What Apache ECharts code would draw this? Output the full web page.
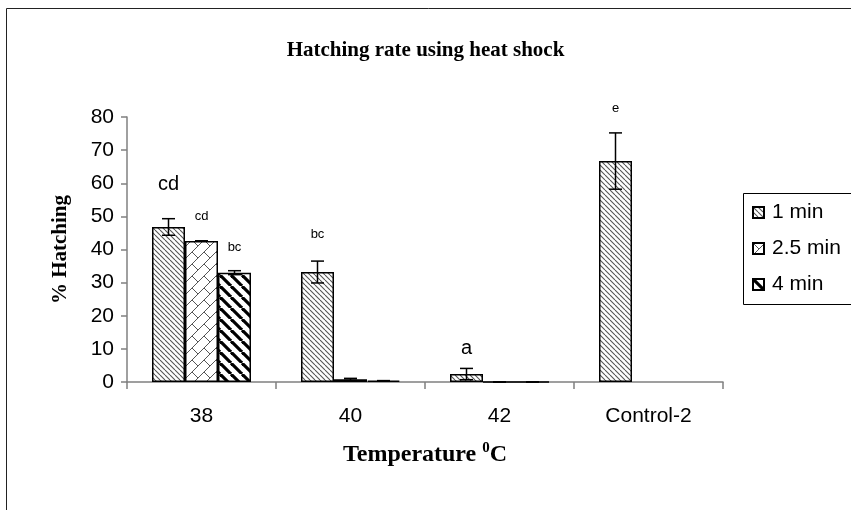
<!DOCTYPE html>
<html>
<head>
<meta charset="utf-8">
<script src="https://cdn.jsdelivr.net/npm/echarts@6/dist/echarts.min.js"></script>
<style>html,body{margin:0;padding:0;background:#fff}#c{width:851px;height:510px}</style>
</head>
<body>
<div id="c"></div>
<script>
// ---- data ----
var categories = ['38', '40', '42', 'Control-2'];
var seriesNames = ['1 min', '2.5 min', '4 min'];
var oneMin = [46.8, 33.2, 2.4, 66.7];
var twoHalfMin = [42.6, 0.8, 0, null];
var fourMin = [33.0, 0.4, 0, null];
var oneMinErr = [2.5, 3.3, 1.7, 8.5];
var twoHalfMinErr = [0, 0.3, 0, null];
var fourMinErr = [0.6, 0, 0, null];
var oneMinLetters = ['cd', 'bc', 'a', 'e'];
var twoHalfMinLetters = ['cd', '', '', ''];
var fourMinLetters = ['bc', '', '', ''];
var yTicks = [0, 10, 20, 30, 40, 50, 60, 70, 80];

// ---- patterns ----
function diagPattern(size, color, width) {
  var c = document.createElement('canvas');
  c.width = size; c.height = size;
  var g = c.getContext('2d');
  g.fillStyle = '#fff'; g.fillRect(0, 0, size, size);
  g.strokeStyle = color; g.lineWidth = width;
  for (var k = -1; k <= 1; k++) {
    g.beginPath();
    g.moveTo(k * size, 0);
    g.lineTo(k * size + size, size);
    g.stroke();
  }
  return c;
}
function brickPattern() {
  var s = 24, c = document.createElement('canvas');
  c.width = s; c.height = s;
  var g = c.getContext('2d');
  g.fillStyle = '#fff'; g.fillRect(0, 0, s, s);
  g.strokeStyle = '#555'; g.lineWidth = 1;
  var k, cc;
  for (k = -2; k <= 6; k++) {
    g.beginPath();
    g.moveTo(12 * k - 24, 24); g.lineTo(12 * k, 0);
    g.stroke();
    g.beginPath();
    g.moveTo(12 * k + 24, -24); g.lineTo(12 * k, 0);
    g.stroke();
  }
  for (k = -4; k <= 6; k++) {
    var off = (Math.abs(k) % 2 === 0) ? 0 : 12;
    for (cc = -72; cc <= 72; cc += 24) {
      var c0 = cc + off;
      var x = (12 * k + c0) / 2, y = (12 * k - c0) / 2;
      g.beginPath(); g.moveTo(x, y); g.lineTo(x + 6, y + 6); g.stroke();
    }
  }
  return c;
}
var pats = [
  {image: diagPattern(5, '#555', 1.1), repeat: 'repeat'},
  {image: brickPattern(), repeat: 'repeat'},
  {image: diagPattern(11, '#000', 3.2), repeat: 'repeat'}
];

var values = [oneMin, twoHalfMin, fourMin];
var errs = [oneMinErr, twoHalfMinErr, fourMinErr];
var letters = [oneMinLetters, twoHalfMinLetters, fourMinLetters];
var bigLetter = {'0-0': true, '0-2': true};
var letterGap = {'0-0': 32, '1-0': 18, '2-0': 19, '0-1': 31, '0-2': 16, '0-3': 46};

var BAR_W = 33;
var SANS = 'Liberation Sans, Arial, sans-serif';
var SERIF = 'Liberation Serif, Times New Roman, serif';

var series = seriesNames.map(function (name, si) {
  return {
    name: name,
    type: 'bar',
    barWidth: BAR_W,
    barGap: '0%',
    itemStyle: {color: pats[si], borderColor: '#000', borderWidth: 1.5},
    data: values[si].map(function (v, ci) {
      var t = letters[si][ci];
      var key = si + '-' + ci;
      var item = {value: v};
      if (t) {
        item.label = {
          show: true, position: 'top', formatter: t,
          distance: letterGap[key] || 20,
          fontFamily: SANS,
          fontSize: bigLetter[key] ? 20 : 13, color: '#000'
        };
      }
      return item;
    })
  };
});

var errData = [];
values.forEach(function (arr, si) {
  arr.forEach(function (v, ci) {
    if (v !== null && errs[si][ci] !== null) errData.push([ci, v, errs[si][ci], si]);
  });
});

series.push({
  type: 'custom',
  z: 10,
  silent: true,
  renderItem: function (params, api) {
    var ci = api.value(0), v = api.value(1), e = api.value(2), si = api.value(3);
    var off = (si - 1) * BAR_W;
    var hi = api.coord([ci, v + e]);
    var lo = api.coord([ci, Math.max(v - e, 0)]);
    var x = hi[0] + off;
    var cap = 6.5;
    var st = {stroke: '#000', lineWidth: 1.5};
    return {
      type: 'group',
      children: [
        {type: 'line', shape: {x1: x, y1: hi[1], x2: x, y2: lo[1]}, style: st},
        {type: 'line', shape: {x1: x - cap, y1: hi[1], x2: x + cap, y2: hi[1]}, style: st},
        {type: 'line', shape: {x1: x - cap, y1: lo[1], x2: x + cap, y2: lo[1]}, style: st}
      ]
    };
  },
  data: errData
});

var chart = echarts.init(document.getElementById('c'), null, {renderer: 'canvas'});
chart.setOption({
  animation: false,
  backgroundColor: '#fff',
  title: {
    text: 'Hatching rate using heat shock',
    left: 'center', top: 35,
    textStyle: {fontFamily: SERIF, fontWeight: 'bold', fontSize: 21, color: '#000'}
  },
  grid: {left: 127, right: 128, top: 117, bottom: 128},
  legend: {
    orient: 'vertical', left: 752, top: 202,
    itemWidth: 11, itemHeight: 11, itemGap: 15,
    icon: 'rect', padding: 0,
    textStyle: {fontFamily: SANS, fontSize: 21, color: '#000', padding: [0, 0, 0, 3]},
    data: seriesNames
  },
  xAxis: {
    type: 'category',
    data: categories,
    axisLine: {lineStyle: {color: '#808080', width: 1.5}},
    axisTick: {show: true, length: 7, lineStyle: {color: '#808080', width: 1.5}},
    axisLabel: {fontFamily: SANS, fontSize: 21, color: '#000', margin: 24},
    name: '{a|Temperature }{s|0}{a|C}',
    nameLocation: 'middle', nameGap: 59,
    nameTextStyle: {
      rich: {
        a: {fontFamily: SERIF, fontWeight: 'bold', fontSize: 24, color: '#000'},
        s: {fontFamily: SERIF, fontWeight: 'bold', fontSize: 15, color: '#000', verticalAlign: 'top', padding: [0, 0, 12, 0]}
      }
    }
  },
  yAxis: {
    type: 'value', min: yTicks[0], max: yTicks[yTicks.length - 1], interval: yTicks[1] - yTicks[0],
    axisLine: {show: true, lineStyle: {color: '#808080', width: 1.5}},
    axisTick: {show: true, length: 6, lineStyle: {color: '#808080', width: 1.5}},
    splitLine: {show: false},
    axisLabel: {fontFamily: SANS, fontSize: 21, color: '#000', margin: 13},
    name: '% Hatching',
    nameLocation: 'middle', nameGap: 56, nameRotate: 90,
    nameTextStyle: {fontFamily: SERIF, fontWeight: 'bold', fontSize: 21, color: '#000'}
  },
  graphic: [
    {type: 'polyline', silent: true, shape: {points: [[6.5, 510], [6.5, 8.5], [851, 8.5]]}, style: {stroke: '#222', lineWidth: 1, fill: null}},
    {type: 'rect', silent: true, shape: {x: 743.5, y: 193.5, width: 130, height: 111}, style: {stroke: '#000', lineWidth: 1, fill: null}}
  ],
  series: series
});
</script>
</body>
</html>
